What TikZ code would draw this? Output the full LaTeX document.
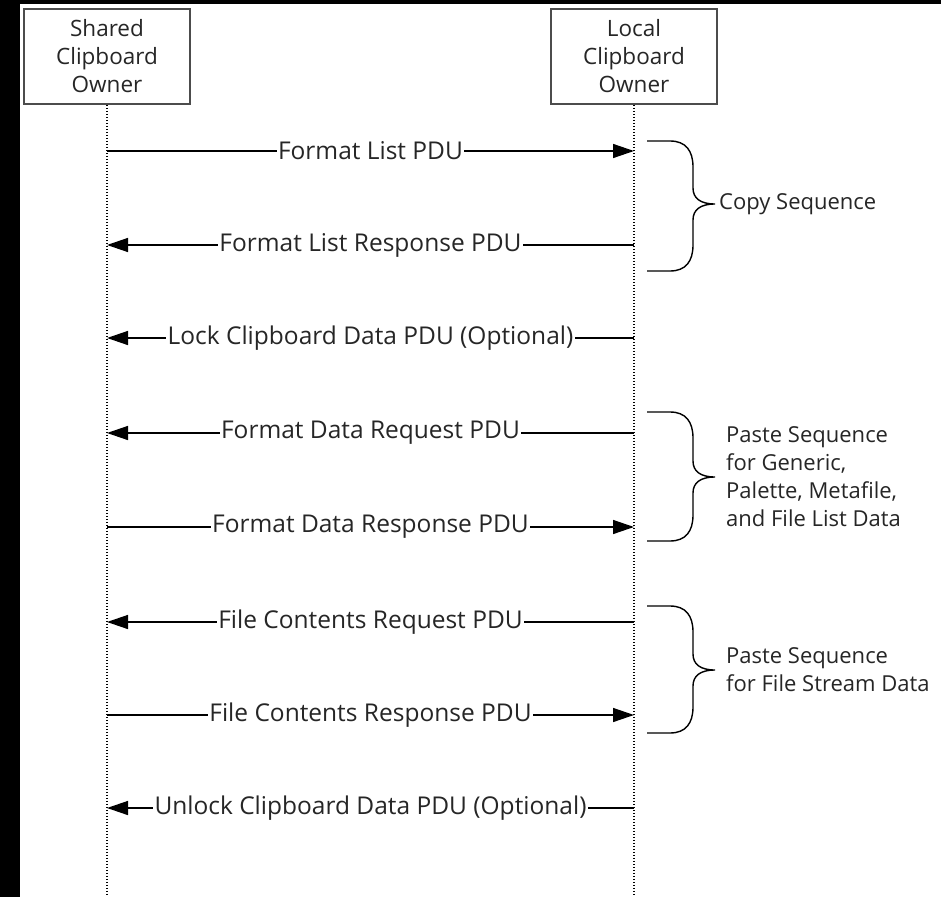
\documentclass[tikz,border=0pt]{standalone}
\usepackage{fontspec}
\setmainfont{Open Sans}
\usetikzlibrary{arrows.meta}
\begin{document}
\begin{tikzpicture}[x=1pt,y=-1pt,
  every node/.style={text=black!85},
  actor/.style={draw=black!70, line width=1.6pt, minimum width=166pt, minimum height=95pt, align=center, inner sep=0pt, fill=white, font=\fontsize{22.5}{28}\selectfont},
  life/.style={line width=1.3pt, dash pattern=on 1.5pt off 1.5pt},
  msg/.style={line width=1.4pt, -{Triangle[length=21pt,width=14pt]}},
  lbl/.style={fill=white, inner sep=1.2pt, font=\fontsize{24.5}{28}\selectfont},
  brc/.style={line width=1.4pt},
  note/.style={align=left, anchor=west, inner sep=0pt, font=\fontsize{22}{28}\selectfont}]
\useasboundingbox (0,0) rectangle (941,896);
\fill[black] (-5,-5) rectangle (20,901);
\fill[black] (-5,-5) rectangle (946,4);
\fill[white] (20,4) rectangle (946,901);

\node[actor] (A) at (107,56.5) {Shared\\Clipboard\\Owner};
\node[actor] (B) at (634,56.5) {Local\\Clipboard\\Owner};
\coordinate (Aend) at (107,896);
\coordinate (Bend) at (634,896);
\draw[life] (A.south) -- (Aend);
\draw[life] (B.south) -- (Bend);

\foreach \i/\y in {1/151,2/245,3/338,4/433,5/527,6/622,7/715,8/808}{
  \coordinate (a\i) at (107,\y);
  \coordinate (b\i) at (634,\y);
}
\draw[msg] (a1) -- node[lbl]{Format List PDU} (b1);
\draw[msg] (b2) -- node[lbl]{Format List Response PDU} (a2);
\draw[msg] (b3) -- node[lbl]{Lock Clipboard Data PDU (Optional)} (a3);
\draw[msg] (b4) -- node[lbl]{Format Data Request PDU} (a4);
\draw[msg] (a5) -- node[lbl]{Format Data Response PDU} (b5);
\draw[msg] (b6) -- node[lbl]{File Contents Request PDU} (a6);
\draw[msg] (a7) -- node[lbl]{File Contents Response PDU} (b7);
\draw[msg] (b8) -- node[lbl]{Unlock Clipboard Data PDU (Optional)} (a8);

\foreach \t/\m/\b in {141/204/271, 412/477/541, 606/670/733}{
  \draw[brc] (647,\t) -- (670,\t) .. controls (686,\t) and (693,{\t+10}) .. (693,{\t+26})
    -- (693,{\m-16}) .. controls (693,{\m-6}) and (700,\m) .. (715,\m)
    .. controls (700,\m) and (693,{\m+6}) .. (693,{\m+16})
    -- (693,{\b-26}) .. controls (693,{\b-10}) and (686,\b) .. (670,\b) -- (647,\b);
}
\node[note] (cs) at (719,204) {Copy Sequence};
\node[note] (ps1) at (726,477) {Paste Sequence\\for Generic,\\Palette, Metafile,\\and File List Data};
\node[note] (ps2) at (726,670) {Paste Sequence\\for File Stream Data};
\end{tikzpicture}
\end{document}
